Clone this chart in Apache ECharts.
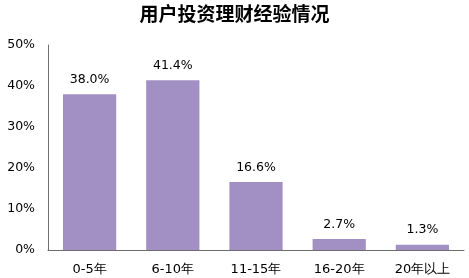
<!DOCTYPE html>
<html><head><meta charset="utf-8">
<script src="https://cdn.jsdelivr.net/npm/echarts@6/dist/echarts.min.js"></script>
<style>html,body{margin:0;padding:0;background:#fff}#c{width:469px;height:278px}</style>
</head><body><div id="c"></div>
<script>
const categories = ['0-5年','6-10年','11-15年','16-20年','20年以上'];
const values = [38.0, 41.4, 16.6, 2.7, 1.3];
const yTicks = [0, 10, 20, 30, 40, 50];
const chart = echarts.init(document.getElementById('c'));
chart.setOption({
  animation: false,
  title: {text: '用户投资理财经验情况', left: 'center', top: -1,
    textStyle: {fontFamily: 'Noto Sans CJK SC', fontWeight: 'bold', fontSize: 19, color: '#000'}},
  grid: {left: 48, right: 5, top: 45, bottom: 28},
  xAxis: {type: 'category', data: categories,
    axisLine: {lineStyle: {color: '#6e6e6e'}}, axisTick: {show: false},
    axisLabel: {color: '#000', fontFamily: 'DejaVu Sans', fontSize: 13, margin: 13}},
  yAxis: {type: 'value', min: yTicks[0], max: yTicks[yTicks.length-1], interval: 10,
    axisLine: {show: true, lineStyle: {color: '#6e6e6e'}}, axisTick: {show: false},
    splitLine: {show: false},
    axisLabel: {color: '#000', fontFamily: 'DejaVu Sans', fontSize: 12.5, margin: 13, formatter: v => v + '%'}},
  series: [{type: 'bar', data: values, barWidth: '64%',
    itemStyle: {color: '#A290C5'},
    label: {show: true, position: 'top', distance: 8, color: '#000', fontFamily: 'DejaVu Sans', fontSize: 12.5,
      formatter: p => p.value.toFixed(1) + '%'}}]
});
</script></body></html>
